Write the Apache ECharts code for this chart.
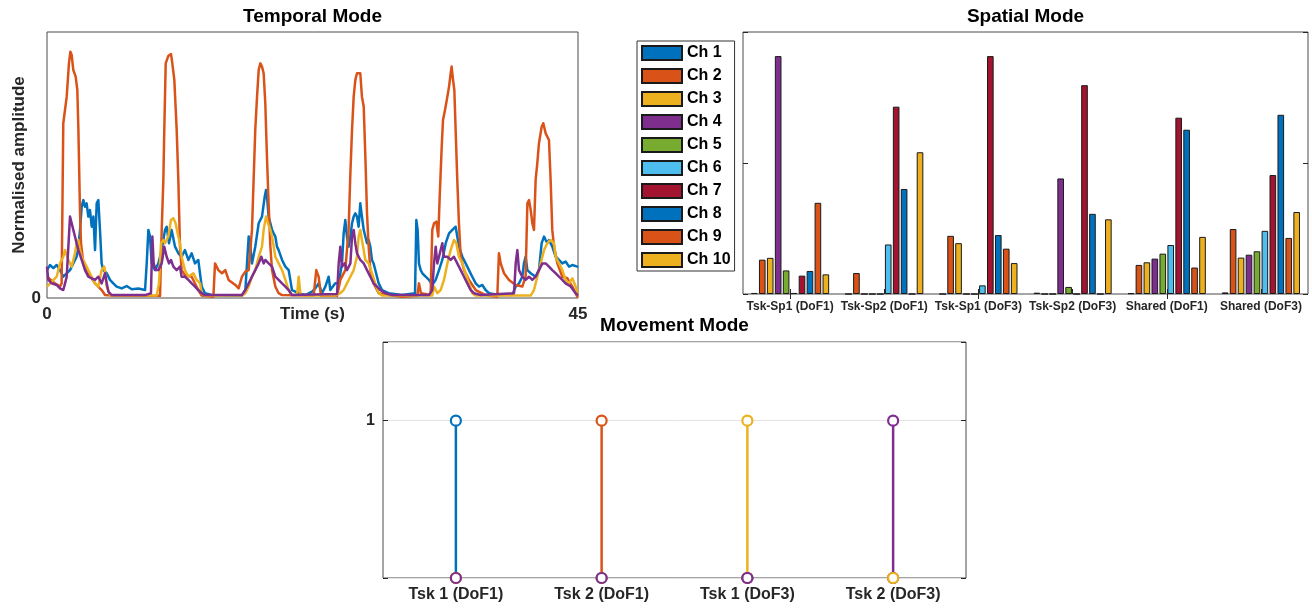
<!DOCTYPE html>
<html><head><meta charset="utf-8">
<script src="https://cdn.jsdelivr.net/npm/echarts@6/dist/echarts.min.js"></script>
<style>html,body{margin:0;padding:0;background:#fff}#c{width:1312px;height:608px}</style>
</head><body><div id="c"></div>
<script>
// ---------- Temporal mode traces: [time (s), normalised amplitude] ----------
const temporalBlue = [[0,0.105],[0.25,0.124],[0.54,0.112],[0.82,0.124],[1.10,0.105],[1.38,0.080],[1.67,0.093],[1.95,0.105],[2.23,0.130],[2.51,0.155],[2.66,0.193],[2.80,0.256],[2.94,0.343],[3.08,0.368],[3.22,0.343],[3.36,0.356],[3.50,0.306],[3.64,0.331],[3.79,0.268],[3.93,0.306],[4.07,0.180],[4.21,0.356],[4.35,0.368],[4.49,0.256],[4.63,0.130],[4.77,0.105],[5.06,0.093],[5.34,0.068],[5.62,0.055],[5.90,0.043],[6.33,0.036],[6.75,0.045],[7.18,0.033],[7.74,0.036],[8.31,0.030],[8.45,0.130],[8.59,0.256],[8.73,0.231],[8.87,0.130],[9.15,0.105],[9.44,0.130],[9.72,0.180],[10.00,0.256],[10.14,0.268],[10.34,0.206],[10.56,0.256],[10.85,0.193],[11.13,0.168],[11.41,0.155],[11.69,0.180],[11.98,0.143],[12.26,0.168],[12.54,0.130],[12.82,0.143],[13.11,0.043],[13.39,0.018],[13.95,0.011],[16.52,0.009],[16.81,0.030],[16.95,0.130],[17.09,0.231],[17.23,0.193],[17.37,0.130],[17.65,0.193],[17.94,0.281],[18.22,0.306],[18.45,0.381],[18.56,0.406],[18.67,0.368],[18.78,0.306],[18.93,0.281],[19.07,0.256],[19.21,0.243],[19.35,0.231],[19.49,0.193],[19.63,0.180],[19.92,0.143],[20.20,0.118],[20.48,0.105],[20.62,0.068],[20.76,0.030],[21.33,0.018],[21.89,0.011],[22.46,0.024],[22.74,0.036],[23.02,0.055],[23.30,0.018],[23.59,0.043],[23.87,0.080],[24.01,0.030],[24.43,0.055],[24.72,0.055],[25.00,0.130],[25.14,0.243],[25.28,0.293],[25.42,0.231],[25.56,0.193],[25.71,0.231],[25.85,0.281],[25.99,0.306],[26.13,0.318],[26.27,0.306],[26.41,0.268],[26.55,0.356],[26.69,0.306],[26.84,0.256],[26.98,0.231],[27.12,0.206],[27.26,0.218],[27.40,0.193],[27.54,0.143],[27.68,0.130],[27.82,0.105],[28.11,0.055],[28.39,0.030],[28.95,0.018],[30.08,0.011],[31.19,0.018],[31.30,0.293],[31.41,0.256],[31.52,0.130],[31.67,0.105],[31.81,0.093],[32.09,0.080],[32.37,0.068],[32.65,0.049],[32.94,0.068],[33.22,0.105],[33.50,0.143],[33.79,0.206],[34.07,0.243],[34.35,0.256],[34.63,0.268],[34.77,0.231],[34.91,0.193],[35.20,0.155],[35.48,0.130],[35.76,0.105],[36.04,0.080],[36.33,0.055],[36.61,0.043],[36.89,0.049],[37.17,0.030],[37.46,0.018],[38.30,0.011],[39.43,0.011],[39.72,0.043],[40.00,0.055],[40.28,0.080],[40.42,0.130],[40.56,0.155],[40.71,0.105],[40.99,0.093],[41.41,0.080],[41.69,0.105],[41.92,0.206],[42.12,0.231],[42.26,0.218],[42.40,0.206],[42.54,0.218],[42.82,0.193],[43.11,0.155],[43.39,0.143],[43.67,0.130],[43.95,0.137],[44.24,0.118],[44.52,0.124],[44.94,0.118],[45,0.120]];
const temporalOrange = [[0,0.080],[0.68,0.055],[1.10,0.043],[1.24,0.055],[1.38,0.657],[1.67,0.757],[1.86,0.882],[1.98,0.926],[2.09,0.914],[2.23,0.857],[2.43,0.832],[2.57,0.782],[2.66,0.632],[2.80,0.318],[2.88,0.206],[3.08,0.130],[3.50,0.093],[4.07,0.055],[4.63,0.030],[4.92,0.011],[5.48,0.009],[9.58,0.008],[9.72,0.256],[9.86,0.444],[9.94,0.632],[10.06,0.882],[10.28,0.910],[10.51,0.917],[10.62,0.882],[10.79,0.820],[10.99,0.632],[11.13,0.444],[11.27,0.193],[11.41,0.105],[11.69,0.086],[12.26,0.080],[12.82,0.030],[13.11,0.009],[14.10,0.005],[14.24,0.130],[14.52,0.105],[14.83,0.093],[15.11,0.105],[15.39,0.068],[15.96,0.049],[16.24,0.036],[16.52,0.080],[16.81,0.099],[17.09,0.105],[17.37,0.256],[17.51,0.444],[17.65,0.632],[17.80,0.757],[17.94,0.857],[18.08,0.882],[18.22,0.870],[18.36,0.845],[18.50,0.732],[18.64,0.531],[18.78,0.356],[18.93,0.193],[19.07,0.105],[19.35,0.043],[19.63,0.018],[19.92,0.011],[22.60,0.009],[22.82,0.105],[23.02,0.080],[23.22,0.008],[24.58,0.008],[24.86,0.068],[25.28,0.105],[25.56,0.256],[25.71,0.469],[25.85,0.632],[25.99,0.757],[26.13,0.820],[26.27,0.845],[26.41,0.851],[26.55,0.845],[26.69,0.757],[26.84,0.719],[26.98,0.531],[27.12,0.318],[27.26,0.193],[27.40,0.105],[27.68,0.055],[28.11,0.018],[28.95,0.011],[30.08,0.005],[31.38,0.008],[31.52,0.055],[31.69,0.018],[32.51,0.011],[32.65,0.256],[32.80,0.281],[32.99,0.287],[33.16,0.231],[33.28,0.381],[33.45,0.569],[33.56,0.669],[33.73,0.707],[33.93,0.757],[34.07,0.794],[34.21,0.845],[34.29,0.870],[34.41,0.820],[34.52,0.782],[34.63,0.632],[34.77,0.444],[34.91,0.281],[35.06,0.155],[35.34,0.105],[35.76,0.068],[36.33,0.030],[37.17,0.011],[38.16,0.005],[38.30,0.168],[38.45,0.130],[38.73,0.093],[39.15,0.068],[39.72,0.049],[40.28,0.043],[40.56,0.080],[40.71,0.356],[40.85,0.368],[40.99,0.331],[41.13,0.281],[41.27,0.256],[41.41,0.444],[41.55,0.506],[41.69,0.581],[41.92,0.644],[42.06,0.657],[42.26,0.619],[42.54,0.594],[42.68,0.444],[42.82,0.256],[42.97,0.193],[43.25,0.130],[43.67,0.080],[44.10,0.074],[44.52,0.043],[44.94,0.005],[45,0.005]];
const temporalYellow = [[0,0.043],[0.40,0.061],[0.82,0.080],[1.10,0.130],[1.38,0.155],[1.53,0.180],[1.81,0.143],[2.09,0.118],[2.37,0.168],[2.51,0.206],[2.66,0.218],[2.80,0.180],[2.94,0.155],[3.22,0.130],[3.50,0.105],[3.79,0.080],[4.07,0.055],[4.35,0.043],[4.63,0.105],[4.86,0.118],[5.06,0.043],[5.34,0.011],[9.29,0.009],[9.49,0.055],[9.66,0.206],[9.86,0.218],[10.00,0.206],[10.28,0.231],[10.51,0.293],[10.71,0.300],[10.90,0.281],[11.07,0.243],[11.27,0.206],[11.41,0.155],[11.69,0.105],[11.98,0.080],[12.40,0.093],[12.68,0.068],[12.97,0.055],[13.11,0.018],[13.39,0.009],[16.52,0.009],[16.81,0.018],[17.09,0.043],[17.37,0.080],[17.65,0.105],[17.94,0.155],[18.22,0.193],[18.36,0.256],[18.56,0.306],[18.73,0.281],[18.93,0.256],[19.07,0.231],[19.21,0.193],[19.35,0.155],[19.63,0.130],[19.92,0.105],[20.20,0.068],[20.48,0.030],[20.76,0.011],[21.19,0.011],[21.33,0.080],[21.47,0.018],[21.61,0.009],[24.43,0.009],[24.86,0.018],[25.14,0.030],[25.42,0.055],[25.71,0.080],[25.99,0.105],[26.27,0.155],[26.41,0.231],[26.55,0.256],[26.69,0.218],[26.84,0.180],[26.98,0.143],[27.26,0.130],[27.54,0.093],[27.82,0.055],[28.11,0.018],[28.39,0.009],[32.65,0.009],[32.80,0.043],[33.08,0.018],[33.36,0.030],[33.64,0.068],[33.93,0.130],[34.21,0.180],[34.49,0.218],[34.69,0.206],[34.91,0.155],[35.20,0.130],[35.48,0.093],[35.76,0.055],[36.04,0.018],[36.33,0.009],[40.99,0.009],[41.27,0.030],[41.55,0.080],[41.84,0.130],[42.12,0.180],[42.40,0.206],[42.68,0.218],[42.97,0.206],[43.11,0.155],[43.39,0.130],[43.67,0.105],[43.95,0.068],[44.24,0.055],[44.52,0.074],[44.80,0.043],[44.94,0.018],[45,0.010]];
const temporalPurple = [[0,0.118],[0.11,0.068],[0.40,0.055],[0.82,0.049],[1.10,0.036],[1.38,0.030],[1.53,0.055],[1.67,0.080],[1.81,0.193],[1.95,0.306],[2.09,0.281],[2.23,0.256],[2.37,0.231],[2.51,0.206],[2.66,0.180],[2.94,0.143],[3.22,0.105],[3.50,0.080],[3.79,0.074],[4.07,0.068],[4.35,0.080],[4.63,0.055],[4.92,0.093],[5.06,0.055],[5.20,0.024],[5.48,0.011],[8.31,0.011],[8.81,0.018],[8.93,0.231],[9.04,0.130],[9.21,0.105],[9.44,0.105],[9.72,0.130],[9.94,0.193],[10.14,0.155],[10.34,0.130],[10.51,0.143],[10.71,0.118],[10.99,0.105],[11.27,0.118],[11.41,0.080],[11.69,0.080],[11.98,0.068],[12.26,0.055],[12.54,0.043],[12.82,0.030],[13.11,0.018],[13.39,0.011],[16.52,0.011],[16.81,0.030],[17.09,0.055],[17.37,0.080],[17.65,0.105],[17.94,0.130],[18.16,0.155],[18.36,0.130],[18.50,0.143],[18.78,0.130],[19.07,0.118],[19.35,0.080],[19.63,0.068],[19.92,0.055],[20.20,0.043],[20.48,0.030],[20.76,0.011],[24.58,0.015],[24.72,0.130],[24.86,0.193],[25.00,0.118],[25.23,0.130],[25.42,0.105],[25.71,0.130],[25.85,0.231],[25.99,0.256],[26.13,0.206],[26.27,0.168],[26.55,0.143],[26.84,0.130],[27.12,0.105],[27.40,0.080],[27.68,0.055],[27.97,0.043],[28.25,0.030],[28.67,0.018],[29.24,0.011],[32.37,0.011],[32.65,0.030],[32.80,0.130],[32.94,0.193],[33.08,0.130],[33.22,0.155],[33.50,0.206],[33.64,0.155],[33.93,0.155],[34.21,0.143],[34.49,0.155],[34.77,0.130],[35.06,0.105],[35.34,0.080],[35.62,0.055],[35.90,0.030],[36.19,0.018],[36.75,0.011],[39.58,0.018],[39.72,0.130],[39.86,0.180],[40.00,0.105],[40.28,0.080],[40.56,0.068],[40.85,0.080],[41.13,0.068],[41.41,0.080],[41.69,0.105],[41.98,0.130],[42.26,0.130],[42.54,0.118],[42.82,0.105],[43.11,0.093],[43.39,0.080],[43.67,0.068],[43.95,0.055],[44.38,0.043],[44.80,0.018],[45,0.010]];
const temporalTicks = [0, 45];

// ---------- Spatial mode ----------
const spatialCategories = ['Tsk-Sp1 (DoF1)','Tsk-Sp2 (DoF1)','Tsk-Sp1 (DoF3)','Tsk-Sp2 (DoF3)','Shared (DoF1)','Shared (DoF3)'];
const channelNames = ['Ch 1','Ch 2','Ch 3','Ch 4','Ch 5','Ch 6','Ch 7','Ch 8','Ch 9','Ch 10'];
const ch1 = [0.004, 0, 0, 0.005, 0.003, 0.006];
const ch2 = [0.131, 0.080, 0.222, 0, 0.111, 0.248];
const ch3 = [0.138, 0, 0.194, 0, 0.121, 0.139];
const ch4 = [0.908, 0, 0, 0.441, 0.135, 0.150];
const ch5 = [0.090, 0, 0, 0.027, 0.154, 0.163];
const ch6 = [0.004, 0.189, 0.033, 0, 0.187, 0.241];
const ch7 = [0.070, 0.715, 0.908, 0.797, 0.673, 0.454];
const ch8 = [0.088, 0.401, 0.225, 0.306, 0.627, 0.684];
const ch9 = [0.348, 0, 0.173, 0, 0.101, 0.214];
const ch10 = [0.075, 0.541, 0.118, 0.285, 0.218, 0.313];

// ---------- Movement mode ----------
const movementCategories = ['Tsk 1 (DoF1)','Tsk 2 (DoF1)','Tsk 1 (DoF3)','Tsk 2 (DoF3)'];
const movement1 = [1, 0, 0, 0];
const movement2 = [0, 1, 0, 0];
const movement3 = [0, 0, 1, 0];
const movement4 = [0, 0, 0, 1];

// ---------- styles ----------
const C = {blue:'#0072BD', orange:'#D95319', yellow:'#EDB120', purple:'#7E2F8E', green:'#77AC30', cyan:'#4DBEEE', red:'#A2142F'};
const chColors = [C.blue, C.orange, C.yellow, C.purple, C.green, C.cyan, C.red, C.blue, C.orange, C.yellow];
const FONT = '"Liberation Sans", Arial, Helvetica, sans-serif';
const AX = '#262626';
const boxColor = '#4a4a4a';

const chart = echarts.init(document.getElementById('c'), null, {renderer:'canvas'});

const titleStyle = {fontSize:19, fontWeight:'bold', color:'#000', fontFamily:FONT};
const lbl = (size, extra) => Object.assign({fontSize:size, fontWeight:'bold', color:AX, fontFamily:FONT}, extra||{});
const inTick = {show:true, inside:true, length:5, lineStyle:{color:AX, width:1}};

const series = [];
// temporal
[[temporalBlue,C.blue],[temporalOrange,C.orange],[temporalYellow,C.yellow],[temporalPurple,C.purple]].forEach((p,i)=>{
  series.push({type:'line', name:'Temporal '+(i+1), xAxisIndex:0, yAxisIndex:0, data:p[0], showSymbol:false, symbol:'none',
    lineStyle:{color:p[1], width:2.5, join:'round'}, itemStyle:{color:p[1]}, clip:true, silent:true});
});
// spatial
[ch1,ch2,ch3,ch4,ch5,ch6,ch7,ch8,ch9,ch10].forEach((d,i)=>{
  series.push({type:'bar', name:channelNames[i], xAxisIndex:1, yAxisIndex:1, data:d,
    barGap:'20%', barCategoryGap:'17%',
    itemStyle:{color:chColors[i], borderColor:'#1a1a1a', borderWidth:1}});
});
// movement stems
const movSets = [[movement1,C.blue],[movement2,C.orange],[movement3,C.yellow],[movement4,C.purple]];
movSets.forEach((p,i)=>{
  series.push({type:'bar', name:'Movement stem '+(i+1), xAxisIndex:3, yAxisIndex:3, data:p[0], barWidth:2.5, barGap:'-100%',
    itemStyle:{color:p[1], opacity:1}, silent:true});
});
movSets.forEach((p,i)=>{
  series.push({type:'scatter', name:'Movement '+(i+1), xAxisIndex:3, yAxisIndex:3, data:p[0], symbol:'circle', symbolSize:10,
    itemStyle:{color:'#fff', borderColor:p[1], borderWidth:2.2, opacity:1}, silent:true});
});

const option = {
  animation:false,
  backgroundColor:'#fff',
  textStyle:{fontFamily:FONT},
  title:[
    {text:'Temporal Mode', left:312.5, top:17, textAlign:'center', textVerticalAlign:'middle', padding:0, textStyle:titleStyle},
    {text:'Spatial Mode', left:1025.5, top:17, textAlign:'center', textVerticalAlign:'middle', padding:0, textStyle:titleStyle},
    {text:'Movement Mode', left:674.5, top:326, textAlign:'center', textVerticalAlign:'middle', padding:0, textStyle:titleStyle}
  ],
  legend:{
    data:channelNames, orient:'vertical', left:637, top:41, padding:[4,4,3,4],
    itemWidth:40, itemHeight:14, itemGap:7, icon:'rect', selectedMode:false,
    borderColor:'#333', borderWidth:1, backgroundColor:'#fff',
    textStyle:{fontSize:16, fontWeight:'bold', color:'#000', fontFamily:FONT, lineHeight:16}
  },
  grid:[
    {left:47, top:32, width:531, height:266, show:true, borderColor:boxColor, borderWidth:1, backgroundColor:'transparent', containLabel:false, outerBoundsMode:'none'},
    {left:743, top:32, width:565, height:262, show:true, borderColor:boxColor, borderWidth:1, backgroundColor:'transparent', containLabel:false, outerBoundsMode:'none'},
    {left:383, top:342, width:583, height:236, show:true, borderColor:boxColor, borderWidth:1, backgroundColor:'transparent', containLabel:false, outerBoundsMode:'none'}
  ],
  xAxis:[
    {gridIndex:0, type:'value', min:temporalTicks[0], max:temporalTicks[1], interval:temporalTicks[1]-temporalTicks[0],
      axisLine:{show:false}, axisTick:{show:false}, splitLine:{show:false},
      axisLabel:lbl(17,{margin:8}),
      name:'Time (s)', nameLocation:'middle', nameGap:8, nameMoveOverlap:false, nameTextStyle:lbl(17,{verticalAlign:'top'})},
    {gridIndex:1, type:'category', data:spatialCategories, axisLine:{show:false},
      axisTick:Object.assign({alignWithLabel:true}, inTick), splitLine:{show:false},
      axisLabel:lbl(12,{interval:0, margin:7})},
    {gridIndex:1, type:'category', position:'top', data:spatialCategories, axisLine:{show:false},
      axisTick:Object.assign({alignWithLabel:true}, inTick), axisLabel:{show:false}, splitLine:{show:false}},
    {gridIndex:2, type:'category', data:movementCategories, axisLine:{show:false},
      axisTick:Object.assign({alignWithLabel:true}, inTick), splitLine:{show:false},
      axisLabel:lbl(16,{interval:0, margin:9})},
    {gridIndex:2, type:'category', position:'top', data:movementCategories, axisLine:{show:false},
      axisTick:Object.assign({alignWithLabel:true}, inTick), axisLabel:{show:false}, splitLine:{show:false}}
  ],
  yAxis:[
    {gridIndex:0, type:'value', min:0, max:1, interval:1, axisLine:{show:false}, axisTick:{show:false}, splitLine:{show:false},
      axisLabel:lbl(17,{margin:6, formatter:v=> v===0 ? '0' : ''}),
      name:'Normalised amplitude', nameLocation:'middle', nameGap:19, nameRotate:90, nameMoveOverlap:false, nameTextStyle:lbl(17)},
    {gridIndex:1, type:'value', min:0, max:1, interval:0.5, axisLine:{show:false}, axisTick:inTick, axisLabel:{show:false}, splitLine:{show:false}},
    {gridIndex:1, type:'value', position:'right', min:0, max:1, interval:0.5, axisLine:{show:false}, axisTick:inTick, axisLabel:{show:false}, splitLine:{show:false}},
    {gridIndex:2, type:'value', min:0, max:1.5, interval:1, axisLine:{show:false}, axisTick:inTick,
      axisLabel:lbl(16,{margin:8, formatter:v=> v===1 ? '1' : ''}),
      splitLine:{show:true, lineStyle:{color:'#e3e3e3', width:1}}},
    {gridIndex:2, type:'value', position:'right', min:0, max:1.5, interval:1, axisLine:{show:false}, axisTick:inTick, axisLabel:{show:false}, splitLine:{show:false}}
  ],
  series:series
};
chart.setOption(option);
</script></body></html>
